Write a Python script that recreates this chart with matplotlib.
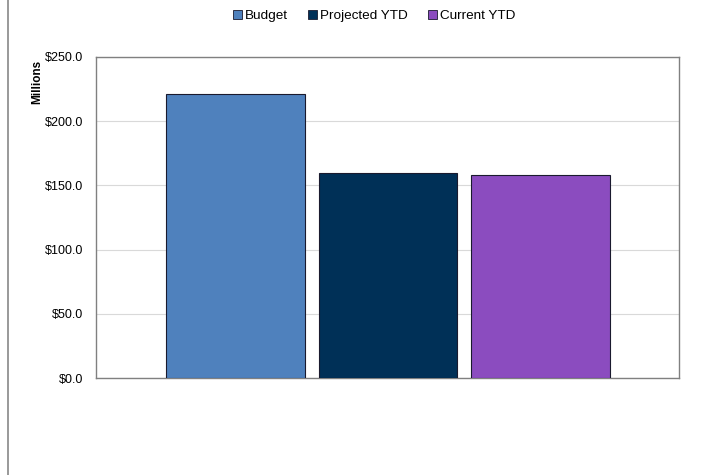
import matplotlib
matplotlib.use("Agg")
import matplotlib.pyplot as plt
from matplotlib.lines import Line2D
from matplotlib.ticker import FuncFormatter

plt.rcParams['font.family'] = ['Liberation Sans', 'DejaVu Sans']

series = ["Budget", "Projected YTD", "Current YTD"]
values = [220.8, 159.4, 157.9]
colors = ["#4F81BD", "#003057", "#8B4CBF"]
yticks = [0, 50, 100, 150, 200, 250]

W, H = 717, 475
fig = plt.figure(figsize=(W / 100, H / 100), dpi=100)
ax = fig.add_axes([96 / W, 1 - 378 / H, (679 - 96) / W, (378 - 57) / H])

x = list(range(len(series)))
bars = ax.bar(x, values, width=0.91, color=colors, edgecolor="#1a1a2e", linewidth=0.8,
              label=series, zorder=3)

ax.set_xlim(-0.915, 2.908)
ax.set_ylim(0, 250)
ax.set_yticks(yticks)
ax.yaxis.set_major_formatter(FuncFormatter(lambda v, p: f"${v:.1f}"))
ax.set_xticks([])
ax.tick_params(axis='y', length=0, labelsize=9, pad=9)
ax.grid(axis='y', color="#d9d9d9", linewidth=0.8, zorder=0)
for s in ax.spines.values():
    s.set_color("#808080")
    s.set_linewidth(1.0)

fig.text(37 / W, 1 - 82 / H, "Millions", rotation=90, fontsize=8.5, fontweight='bold',
         ha='center', va='center')

handles = [plt.Rectangle((0, 0), 1, 1, facecolor=c, edgecolor="#1a1a2e", linewidth=0.6) for c in colors]
fig.legend(handles, series, loc='center', bbox_to_anchor=(374 / W, 1 - 16 / H), ncol=3,
           frameon=False, fontsize=9.7, handlelength=0.7, handleheight=0.7,
           handletextpad=0.2, columnspacing=1.5)

fig.add_artist(Line2D([8 / W, 8 / W], [0, 1], transform=fig.transFigure, color="#888888", linewidth=1.2))

fig.savefig("out.png", dpi=100)
